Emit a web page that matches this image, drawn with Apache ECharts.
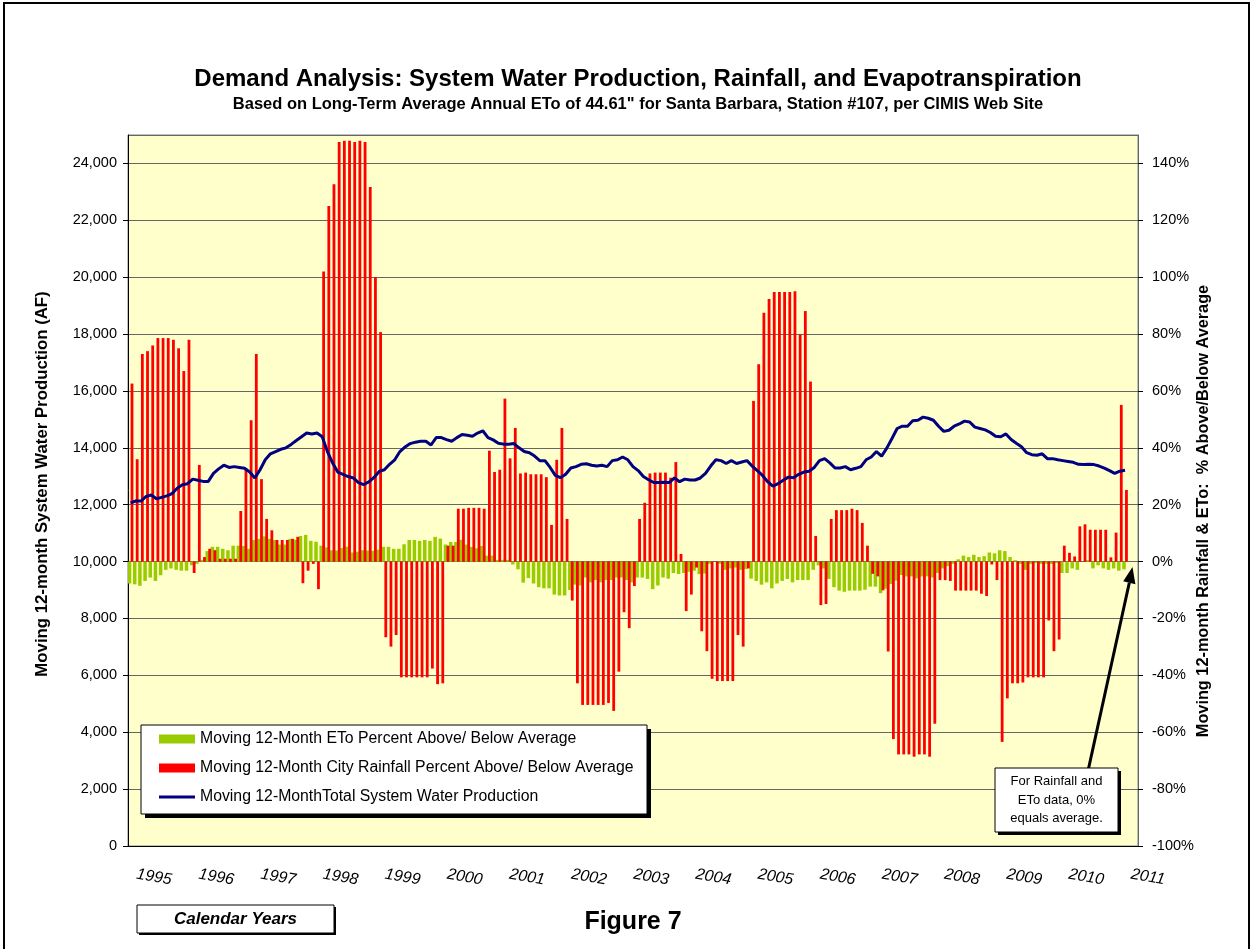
<!DOCTYPE html>
<html>
<head>
<meta charset="utf-8">
<script src="https://cdn.jsdelivr.net/npm/echarts/dist/echarts.min.js"></script>
<style>
html, body { margin: 0; padding: 0; background: #fff; }
#chart { width: 1253px; height: 949px; }
</style>
</head>
<body>
<div id="chart"></div>
<script>
// calendar years on the x axis, one category per month (data ends Jan 2011)
const years = ['1995', '1996', '1997', '1998', '1999', '2000', '2001', '2002',
  '2003', '2004', '2005', '2006', '2007', '2008', '2009', '2010', '2011']

// moving 12-month ETo, % above/below average
const etoPct = [
  -7.7, -8, -8.5, -6.8, -5.6, -6.8, -4.8, -2.9, -2.4, -2.9, -3.2, -3.2,
  -1.3, -0.8, 0.6, 3.7, 5.2, 5.2, 4.5, 4, 5.6, 5.6, 5.5, 4.5,
  7.6, 8, 8.9, 8, 7.6, 6, 6, 8, 7.7, 9, 9.4, 7.3,
  7, 5.6, 5, 4, 3.9, 4.8, 5.3, 3.2, 3.5, 4, 3.9, 3.8,
  4.2, 5.2, 5.2, 4.5, 4.5, 6.1, 7.6, 7.6, 7.3, 7.6, 7.3, 8.7,
  8.1, 6, 6.9, 6.9, 7.7, 6, 5.2, 4.7, 5.5, 2.1, 2.1, 0.6,
  0.6, 0.6, -1, -2.7, -7.4, -5.8, -7.7, -9, -9.4, -9.4, -11.6, -11.9,
  -11.9, -10, -8.1, -8.4, -5.6, -7.3, -6.5, -7.3, -6.5, -6.5, -5.6, -5.6,
  -6.5, -7.3, -5.6, -5.6, -6.1, -9.7, -8.4, -5.6, -6, -4, -4.4, -4,
  -3.6, -3.2, -4.4, -4.2, -0.8, 0, -0.8, -2.9, -2.4, -2.1, -2.9, -2.6,
  -6, -6.8, -8.1, -7.3, -9.4, -7.7, -6.8, -6.1, -7.3, -6.5, -6.5, -6.5,
  -2.9, -1.3, -2.4, -6.1, -9, -10.2, -10.6, -10.2, -10.2, -10.2, -9.9, -8.8,
  -8.8, -11.1, -9.5, -7.9, -6.7, -4.7, -5.2, -5.2, -5.9, -5.2, -5.2, -5.6,
  -4, -2.4, -1.6, -0.8, 0.8, 2.1, 1.6, 2.4, 1.6, 1.9, 3.2, 2.9,
  4, 3.7, 1.6, 0.5, -0.8, -2.9, -0.8, -0.5, -0.8, -0.8, -0.8, -0.5,
  -4, -4, -2.4, -2.9, 0, 0.5, -2.4, -1.3, -2.4, -2.9, -2.4, -3.2,
  -2.7
]

// moving 12-month city rainfall, % above/below average
const rainPct = [
  62.6, 36, 73, 74, 76, 78.6, 78.6, 78.6, 78, 75, 67, 78,
  -4, 34, 1.6, 4.5, 4, 1, 1, 1, 1, 17.8, 32.6, 49.7,
  73, 29, 15, 11, 7.6, 7.6, 7.6, 8, 8.7, -7.6, -3.2, -0.8,
  -9.7, 102, 125, 132.7, 147.5, 148, 148, 147.5, 148, 147.5, 131.7, 100,
  80.7, -26.6, -29.9, -25.8, -40.7, -40.7, -40.7, -40.7, -40.7, -40.7, -37.6, -43.1,
  -42.8, 5.6, 5.6, 18.6, 18.6, 18.9, 18.9, 18.9, 18.6, 39, 31.5, 32.3,
  57.3, 36.3, 47, 31, 31.3, 30.7, 30.7, 30.7, 29.7, 12.9, 35.8, 47,
  15, -13.7, -42.8, -50.4, -50.4, -50.4, -50.4, -50.4, -49.7, -52.5, -38.7, -17.8,
  -23.4, -8.6, 15, 20.7, 31, 31.3, 31.3, 31.3, 29.5, 35, 2.7, -17.4,
  -11.6, -2.1, -24.5, -31.5, -41.2, -42, -42, -42, -42, -25.8, -29.9, -2.4,
  56.5, 69.4, 87.5, 92.3, 94.8, 94.8, 94.8, 94.8, 95.1, 79.9, 88.1, 63.3,
  9, -15.3, -14.9, 15, 18.1, 18.1, 18.1, 18.6, 18.1, 13.6, 5.6, -4.3,
  -5.2, -10.1, -31.6, -62.4, -67.8, -67.8, -67.8, -68.6, -67.8, -67.8, -68.6, -57,
  -6.5, -6.5, -6.8, -10.2, -10.2, -10.2, -10.2, -10.2, -11.3, -12.1, -1, -6.5,
  -63.4, -48.1, -42.8, -42.8, -42.5, -40.7, -40.7, -40.7, -40.7, -20.7, -31.5, -27.4,
  5.6, 3.1, 1.8, 12.4, 13.1, 11.2, 11.2, 11.2, 11.2, 1.5, 10.2, 55.1,
  25.2
]

// moving 12-month total system water production (AF)
const production = [
  12066, 12130, 12130, 12290, 12340, 12210, 12260, 12310, 12390, 12580, 12700, 12740,
  12900, 12860, 12820, 12820, 13100, 13260, 13390, 13310, 13340, 13310, 13280, 13150,
  12940, 13230, 13580, 13790, 13870, 13950, 14000, 14120, 14260, 14390, 14520, 14490,
  14520, 14390, 13870, 13470, 13150, 13070, 12990, 12940, 12780, 12710, 12800, 12960,
  13170, 13230, 13420, 13580, 13870, 14030, 14150, 14200, 14230, 14230, 14100, 14360,
  14360, 14290, 14230, 14360, 14470, 14440, 14410, 14520, 14600, 14360, 14280, 14160,
  14130, 14130, 14150, 14000, 13870, 13830, 13710, 13550, 13550, 13310, 13030, 12950,
  13070, 13290, 13340, 13420, 13440, 13390, 13360, 13390, 13340, 13550, 13580, 13680,
  13580, 13340, 13200, 12990, 12880, 12780, 12780, 12790, 12780, 12940, 12810, 12900,
  12870, 12870, 12940, 13100, 13360, 13580, 13550, 13450, 13550, 13450, 13500, 13550,
  13360, 13200, 13030, 12810, 12650, 12740, 12860, 12970, 12950, 13070, 13150, 13180,
  13310, 13550, 13620, 13470, 13290, 13290, 13340, 13230, 13280, 13340, 13580, 13680,
  13870, 13710, 13990, 14330, 14680, 14760, 14760, 14950, 14970, 15080, 15040, 14970,
  14760, 14580, 14620, 14760, 14840, 14940, 14910, 14730, 14680, 14630, 14540, 14410,
  14390, 14490, 14290, 14160, 14040, 13830, 13760, 13740, 13790, 13620, 13620, 13580,
  13550, 13520, 13490, 13420, 13410, 13420, 13410, 13360, 13290, 13200, 13100, 13180,
  13210
]

const etoName = 'Moving 12-Month ETo Percent Above/ Below Average'
const rainName = 'Moving 12-Month City Rainfall Percent Above/ Below Average'
const prodName = 'Moving 12-MonthTotal System Water Production'

// month categories, the axis runs a couple of months past Jan 2011
const months = []
years.forEach(function(y) {
  const last = y === '2011' ? 3 : 12
  for (let m = 1; m <= last; m++) {
    months.push(y + '-' + (m < 10 ? '0' + m : m))
  }
})

const FONT = '"Liberation Sans", Arial, sans-serif'
const chart = echarts.init(document.getElementById('chart'))

const option = {
  animation: false,
  textStyle: { fontFamily: FONT, color: '#000' },
  grid: {
    left: 128, top: 135, right: 115, bottom: 103,
    show: true, backgroundColor: '#FFFFCC', borderColor: '#808080', borderWidth: 1,
    outerBoundsMode: 'none'
  },
  legend: {
    orient: 'vertical',
    left: 159,
    top: 731,
    padding: 0,
    itemWidth: 36,
    itemHeight: 9,
    itemGap: 13,
    selectedMode: false,
    textStyle: { fontSize: 15.8, color: '#000', fontFamily: FONT },
    data: [
      { name: etoName, icon: 'rect' },
      { name: rainName, icon: 'rect' },
      { name: prodName, icon: 'path://M0,0 H36 V3 H0 Z', itemStyle: { color: '#000080' } }
    ],
    z: 6
  },
  xAxis: {
    type: 'category',
    data: months,
    boundaryGap: true,
    axisLine: { lineStyle: { color: '#000', width: 1 } },
    axisTick: {
      interval: function(i) { return i % 12 === 0 },
      length: 5,
      lineStyle: { color: '#000' }
    },
    axisLabel: {
      interval: function(i) { return i % 12 === 0 },
      formatter: function(v) { return v.slice(0, 4) },
      rotate: -10,
      fontStyle: 'italic',
      fontSize: 16,
      margin: 27,
      padding: [0, 0, 0, 6],
      color: '#000'
    },
    splitLine: { show: false }
  },
  yAxis: [
    {
      type: 'value',
      position: 'left',
      min: 0,
      max: 25000,
      interval: 2000,
      axisLine: { show: true, lineStyle: { color: '#000' } },
      axisTick: { show: true, length: 5, lineStyle: { color: '#000' } },
      axisLabel: {
        fontSize: 14.5,
        margin: 11,
        color: '#000',
        showMaxLabel: false,
        formatter: function(v) { return v.toLocaleString('en-US') }
      },
      splitLine: { show: true, lineStyle: { color: '#666', width: 1 } }
    },
    {
      type: 'value',
      position: 'right',
      min: -100,
      max: 150,
      interval: 20,
      axisLine: { show: true, lineStyle: { color: '#666' } },
      axisTick: { show: true, length: 5, lineStyle: { color: '#000' } },
      axisLabel: {
        fontSize: 14.5,
        margin: 14,
        color: '#000',
        showMaxLabel: false,
        formatter: function(v) { return v + '%' }
      },
      splitLine: { show: false }
    }
  ],
  series: [
    {
      name: etoName,
      type: 'bar',
      yAxisIndex: 1,
      data: etoPct,
      barWidth: 3.5,
      barGap: '-20%',
      itemStyle: { color: '#99CC00' }
    },
    {
      name: rainName,
      type: 'bar',
      yAxisIndex: 1,
      data: rainPct,
      barWidth: 2.8,
      barGap: '-20%',
      itemStyle: { color: '#FF0000' }
    },
    {
      name: prodName,
      type: 'line',
      yAxisIndex: 0,
      data: production,
      symbol: 'none',
      showSymbol: false,
      z: 3,
      lineStyle: { color: '#000080', width: 3 },
      itemStyle: { color: '#000080' }
    }
  ],
  graphic: [
    // outer frame
    { type: 'rect', silent: true, z: 0, shape: { x: 4, y: 3, width: 1245, height: 1000 },
      style: { fill: 'none', stroke: '#000', lineWidth: 2 } },
    // titles
    { type: 'text', silent: true, x: 638, y: 79, z: 5,
      style: { text: 'Demand Analysis: System Water Production, Rainfall, and Evapotranspiration',
        font: 'bold 24px ' + FONT, fill: '#000', align: 'center', verticalAlign: 'middle' } },
    { type: 'text', silent: true, x: 638, y: 104, z: 5,
      style: { text: 'Based on Long-Term Average Annual ETo of 44.61" for Santa Barbara, Station #107, per CIMIS Web Site',
        font: 'bold 16.5px ' + FONT, fill: '#000', align: 'center', verticalAlign: 'middle' } },
    // axis titles
    { type: 'text', silent: true, x: 42, y: 484, rotation: Math.PI / 2, z: 5,
      style: { text: 'Moving 12-month System Water Production (AF)',
        font: 'bold 16.8px ' + FONT, fill: '#000', align: 'center', verticalAlign: 'middle' } },
    { type: 'text', silent: true, x: 1204, y: 511, rotation: Math.PI / 2, z: 5,
      style: { text: 'Moving 12-month Rainfall & ETo:  % Above/Below Average',
        font: 'bold 16.3px ' + FONT, fill: '#000', align: 'center', verticalAlign: 'middle' } },
    // legend box
    { type: 'rect', silent: true, z: 3, shape: { x: 145, y: 729, width: 506, height: 89 },
      style: { fill: '#000' } },
    { type: 'rect', silent: true, z: 3, shape: { x: 141, y: 725, width: 506, height: 89 },
      style: { fill: '#fff', stroke: '#000', lineWidth: 1 } },
    // note box and arrow
    { type: 'line', silent: true, z: 5, shape: { x1: 1088, y1: 771, x2: 1129.3, y2: 582.7 },
      style: { stroke: '#000', lineWidth: 3 } },
    { type: 'polygon', silent: true, z: 5,
      shape: { points: [[1132.5, 567], [1135.4, 584.2], [1123.2, 581.2]] },
      style: { fill: '#000' } },
    { type: 'rect', silent: true, z: 5, shape: { x: 998, y: 771, width: 123, height: 64 },
      style: { fill: '#000' } },
    { type: 'rect', silent: true, z: 5, shape: { x: 995, y: 768, width: 123, height: 64 },
      style: { fill: '#fff', stroke: '#000', lineWidth: 1 } },
    { type: 'text', silent: true, x: 1056.5, y: 800, z: 6,
      style: { text: 'For Rainfall and\nETo data, 0%\nequals average.', font: '13px ' + FONT,
        lineHeight: 18.5, fill: '#000', align: 'center', verticalAlign: 'middle' } },
    // bottom labels
    { type: 'rect', silent: true, z: 5, shape: { x: 139, y: 907, width: 197, height: 28 },
      style: { fill: '#000' } },
    { type: 'rect', silent: true, z: 5, shape: { x: 137, y: 905, width: 197, height: 28 },
      style: { fill: '#fff', stroke: '#000', lineWidth: 1 } },
    { type: 'text', silent: true, x: 235.5, y: 919, z: 6,
      style: { text: 'Calendar Years', font: 'italic bold 17px ' + FONT, fill: '#000',
        align: 'center', verticalAlign: 'middle' } },
    { type: 'text', silent: true, x: 633, y: 922, z: 6,
      style: { text: 'Figure 7', font: 'bold 25px ' + FONT, fill: '#000',
        align: 'center', verticalAlign: 'middle' } }
  ]
}

chart.setOption(option)
</script>
</body>
</html>
